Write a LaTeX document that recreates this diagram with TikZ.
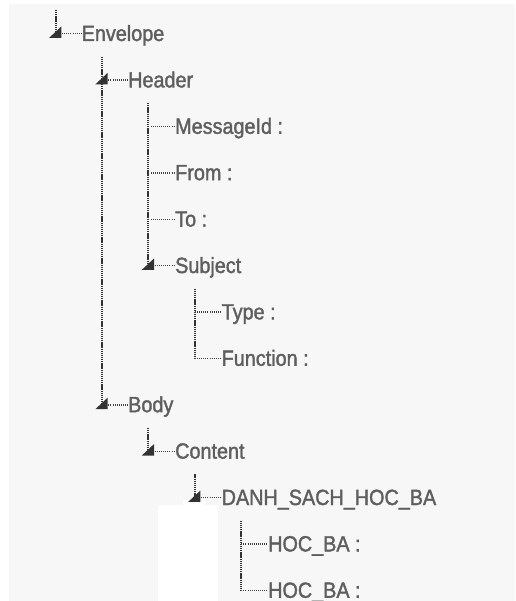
\documentclass[tikz,border=0pt]{standalone}
\usepackage{fontspec}
\setmainfont{Liberation Sans}[FakeStretch=0.9, FakeBold=1.6]
\definecolor{pagebg}{HTML}{F7F7F7}
\definecolor{labelgrey}{HTML}{5E5E5E}
\definecolor{treeline}{HTML}{333333}
\definecolor{stubline}{HTML}{444444}
\tikzset{
  x=1pt, y=1pt,
  label/.style={anchor=west, inner sep=0pt, text height=14.6pt, text depth=0pt,
                font=\fontsize{22}{22}\selectfont, text=labelgrey},
  trunk/.style={draw=treeline, line width=2pt, dash pattern=on 1.3pt off 0.8pt},
  twig/.style={draw=stubline, line width=1.3pt, dash pattern=on 1pt off 1.1pt},
  expander/.pic={\fill[treeline] (-6.6,-4.2) -- (5.6,-4.2) -- (5.6,7.2) -- cycle;}
}
\begin{document}
\begin{tikzpicture}
  % page and background panel
  \fill[white] (0,0) rectangle (515,-601);
  \useasboundingbox (0,0) rectangle (515,-601);
  \fill[pagebg] (9,-4) rectangle (515,-601);
  \fill[white] (158,-505) rectangle (218,-601);
  \fill[white] (183,-500) rectangle (205,-505);

  % junction points on the tree lines (column x, row y)
  \coordinate (envTop) at (55.7,-10);
  \coordinate (envJ)   at (55.7,-33.7);
  \coordinate (hdrTop) at (102,-56.7);
  \coordinate (hdrJ)   at (102,-80.1);
  \coordinate (msgTop) at (148.4,-103.1);
  \coordinate (msgJ)   at (148.4,-126.5);
  \coordinate (fromJ)  at (148.4,-172.9);
  \coordinate (toJ)    at (148.4,-219.3);
  \coordinate (subJ)   at (148.4,-265.7);
  \coordinate (typTop) at (194.8,-288.7);
  \coordinate (typJ)   at (194.8,-312.1);
  \coordinate (funJ)   at (194.8,-358.5);
  \coordinate (bodyJ)  at (102,-404.9);
  \coordinate (cntTop) at (148.4,-427.9);
  \coordinate (cntJ)   at (148.4,-451.3);
  \coordinate (dshTop) at (194.8,-474.3);
  \coordinate (dshJ)   at (194.8,-497.7);
  \coordinate (hocTop) at (241.2,-520.7);
  \coordinate (hocAJ)  at (241.2,-544.1);
  \coordinate (hocBJ)  at (241.2,-590.5);

  % labels
  \node[label] (envelope) at (81.5,-33.7)  {Envelope};
  \node[label] (header)   at (128,-80.1)   {Header};
  \node[label] (msgid)    at (175,-126.5)  {MessageId :};
  \node[label] (from)     at (175,-172.9)  {From :};
  \node[label] (to)       at (175,-219.3)  {To :};
  \node[label] (subject)  at (175,-265.7)  {Subject};
  \node[label] (type)     at (221.5,-312.1) {Type :};
  \node[label] (function) at (221.5,-358.5) {Function :};
  \node[label] (body)     at (128,-404.9)  {Body};
  \node[label] (content)  at (175,-451.3)  {Content};
  \node[label] (danh)     at (221.5,-497.7) {DANH\_SACH\_HOC\_BA};
  \node[label] (hoca)     at (268,-544.1)  {HOC\_BA :};
  \node[label] (hocb)     at (268,-590.5)  {HOC\_BA :};

  % vertical tree lines
  \draw[trunk] (envTop) -- (envJ);
  \draw[trunk] (hdrTop) -- (bodyJ);
  \draw[trunk] (msgTop) -- (subJ);
  \draw[trunk] (typTop) -- (funJ);
  \draw[trunk] (cntTop) -- (cntJ);
  \draw[trunk] (dshTop) -- (dshJ);
  \draw[trunk] (hocTop) -- (hocBJ);

  % horizontal branches
  \draw[twig] (envJ)  -- (envelope.west);
  \draw[twig] (hdrJ)  -- (header.west);
  \draw[twig] (msgJ)  -- (msgid.west);
  \draw[twig] (fromJ) -- (from.west);
  \draw[twig] (toJ)   -- (to.west);
  \draw[twig] (subJ)  -- (subject.west);
  \draw[twig] (typJ)  -- (type.west);
  \draw[twig] (funJ)  -- (function.west);
  \draw[twig] (bodyJ) -- (body.west);
  \draw[twig] (cntJ)  -- (content.west);
  \draw[twig] (dshJ)  -- (danh.west);
  \draw[twig] (hocAJ) -- (hoca.west);
  \draw[twig] (hocBJ) -- (hocb.west);

  % expanded-node markers
  \pic at (envJ)  {expander};
  \pic at (hdrJ)  {expander};
  \pic at (subJ)  {expander};
  \pic at (bodyJ) {expander};
  \pic at (cntJ)  {expander};
  \pic at (dshJ)  {expander};
\end{tikzpicture}
\end{document}
